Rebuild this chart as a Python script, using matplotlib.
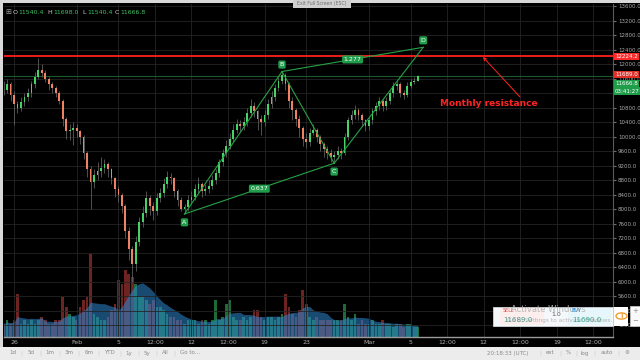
import matplotlib
matplotlib.use('Agg')
import matplotlib.pyplot as plt
from matplotlib.patches import Rectangle, Circle
import numpy as np
import pandas as pd

# 8h candles, first one at Jan 25 00:00 (day 0 = Jan 26)
closes = [
    11300, 11450, 11150, 10900, 10800, 10950, 11100, 11200, 11450, 11650,
    11840, 11750, 11600, 11450, 11350, 11200, 11000, 10500, 10150, 10200,
    10250, 10150, 10000, 9550, 9100, 8750, 8950, 9050, 9150, 9250,
    9100, 8850, 8550, 8400, 8100, 7400, 6900, 6500, 7100, 7650,
    7900, 8300, 8100, 7950, 8300, 8450, 8700, 8900, 8850, 8500,
    8250, 8000, 8050, 8250, 8350, 8550, 8700, 8500, 8550, 8650,
    8800, 9000, 9300, 9550, 9750, 9950, 10200, 10350, 10300, 10400,
    10650, 10850, 10700, 10500, 10400, 10600, 10900, 11100, 11350, 11550,
    11700, 11450, 11000, 10750, 10500, 10250, 9950, 9850, 10100, 10200,
    10000, 9800, 9650, 9550, 9450, 9500, 9600, 9550, 10000, 10450,
    10600, 10750, 10600, 10450, 10300, 10450, 10700, 10850, 11000, 10850,
    11000, 11200, 11400, 11450, 11200, 11150, 11400, 11500, 11540.4, 11666.8]
highs = [
    11550, 11600, 11500, 11250, 11000, 11100, 11200, 11350, 11550, 11800,
    12170, 12000, 11850, 11650, 11500, 11400, 11250, 11050, 10550, 10350,
    10400, 10350, 10200, 10050, 9600, 9200, 9100, 9300, 9440, 9400,
    9300, 9150, 8900, 8650, 8450, 8150, 7500, 7000, 7250, 7800,
    8100, 8500, 8400, 8200, 8450, 8600, 8850, 9050, 9000, 8900,
    8550, 8350, 8150, 8400, 8500, 8700, 8900, 8750, 8700, 8800,
    8950, 9100, 9400, 9650, 9900, 10100, 10350, 10500, 10450, 10550,
    10800, 11050, 10950, 10750, 10600, 10750, 11050, 11250, 11450, 11650,
    11800, 11750, 11500, 11100, 10800, 10600, 10300, 10100, 10250, 10350,
    10250, 10050, 9850, 9750, 9650, 9600, 9750, 9700, 10100, 10550,
    10750, 10880, 10800, 10650, 10500, 10550, 10800, 10950, 11100, 11050,
    11100, 11300, 11500, 11550, 11500, 11300, 11500, 11600, 11650, 11698]
lows = [
    11150, 11200, 11000, 10330, 10650, 10700, 10850, 11000, 11100, 11350,
    11600, 11650, 11500, 11300, 11200, 11100, 10900, 10300, 9950, 9900,
    9780, 10000, 9800, 9400, 8900, 8000, 8600, 8800, 8900, 9000,
    8900, 8700, 8350, 8200, 7900, 7200, 6600, 6000, 6300, 7000,
    7500, 7800, 7850, 7700, 7850, 8200, 8350, 8600, 8700, 8350,
    8100, 7950, 7870, 7950, 8150, 8250, 8450, 8350, 8400, 8450,
    8550, 8700, 8900, 9200, 9450, 9650, 9850, 10100, 10150, 10200,
    10300, 10550, 10550, 10200, 10050, 10300, 10500, 10800, 11000, 11250,
    11450, 11300, 10800, 10450, 10300, 10000, 9750, 9700, 9750, 10050,
    9850, 9600, 9450, 9400, 9300, 9270, 9400, 9400, 9500, 9900,
    10350, 10500, 10450, 10300, 10150, 10200, 10350, 10600, 10750, 10700,
    10750, 10900, 11100, 11300, 11100, 11050, 11100, 11350, 11450, 11540.4]
first_open = 11450
volumes = [
    4, 5, 4, 5, 13, 4, 5, 4, 5, 4,
    5, 6, 5, 4, 4, 5, 5, 12, 9, 7,
    6, 5, 9, 11, 12, 25, 7, 6, 5, 5,
    6, 8, 10, 17, 16, 20, 19, 18, 16, 12,
    12, 11, 10, 11, 9, 9, 8, 7, 6, 6,
    5, 5, 4, 5, 5, 5, 4, 5, 5, 4,
    5, 11, 5, 6, 10, 11, 6, 5, 5, 6,
    5, 6, 8, 8, 6, 5, 6, 6, 5, 6,
    7, 13, 9, 7, 6, 8, 14, 10, 6, 5,
    6, 5, 5, 5, 5, 5, 5, 5, 10, 6,
    5, 7, 4, 5, 4, 4, 5, 4, 4, 5,
    4, 4, 3, 4, 4, 3, 4, 4, 3, 3]

# ABCD pattern (days from Jan 26, price)
pat_names = ['A', 'B', 'C', 'D']
pat_t = [16.33, 25.67, 30.67, 39.2]
pat_p = [7870, 11800, 9270, 12469]
ratio_ac = '0.637'
ratio_bd = '1.277'

resistance = 12224.2
last_price = 11666.8

xtick_pos = [0, 6, 10, 13.5, 17, 20.5, 24, 28, 34, 38, 41.5, 45, 48.5, 52, 55.5]
xtick_lab = ['26', 'Feb', '5', '12:00', '12', '12:00', '19', '23', 'Mar', '5',
             '12:00', '12', '12:00', '19', '12:00']

W, H = 640, 360
def fx(x):
    return x / W
def fy(y):
    return 1 - y / H

c = np.array(closes, dtype=float)
o = np.concatenate([[first_open], c[:-1]])
hi = np.array(highs, dtype=float)
lo = np.array(lows, dtype=float)
vol = np.array(volumes, dtype=float)
t = -1 + np.arange(len(c)) / 3.0
up = c >= o

fig = plt.figure(figsize=(6.4, 3.6), dpi=100, facecolor='black')

rect = [fx(4), fy(337), (613 - 4) / W, (337 - 4) / H]
axv = fig.add_axes(rect, zorder=1)
axv.set_facecolor('black')
ax = fig.add_axes(rect, zorder=2, sharex=axv)
ax.set_facecolor('none')

# volume
vcol = np.where(up, '#1d6b35', '#6e2323')
axv.bar(t, vol, width=0.26, color=vcol, lw=0)
ma = pd.Series(vol).rolling(8, min_periods=1).mean()
axv.fill_between(t, ma, color='#2d88d1', alpha=0.55, lw=0)
axv.set_ylim(0, 100)
axv.set_yticks([])
axv.tick_params(axis='x', length=0, labelbottom=False)
for s in axv.spines.values():
    s.set_visible(False)

# candles
ax.vlines(t, lo, hi, color='#5e5e5e', lw=0.6, zorder=3)
body_h = np.maximum(np.abs(c - o), 15)
ccol = np.where(up, '#46d264', '#f08264')
ax.bar(t, body_h, bottom=np.minimum(o, c), width=0.17, color=ccol, lw=0, zorder=4)

ax.set_xlim(-0.958, 57.38)
ax.set_ylim(4477, 13663)
ax.grid(color='#252525', lw=0.6)
ax.set_axisbelow(True)

ax.axhline(resistance, color='#ff1f1f', lw=1.3, zorder=5)
ax.axhline(last_price, color='#1c5a2c', lw=0.8, zorder=2)

# pattern
segs = [(0, 1), (1, 2), (2, 3), (0, 2), (1, 3)]
for a, b in segs:
    ax.plot([pat_t[a], pat_t[b]], [pat_p[a], pat_p[b]], color='#27a244', lw=0.8, zorder=6)
box = dict(boxstyle='round,pad=0.25', fc='#1f9d4a', ec='none')
for i, name in enumerate(pat_names):
    dy = -6 if name in ('A', 'C') else 5
    ax.annotate(name, (pat_t[i], pat_p[i]), xytext=(0, dy), textcoords='offset points',
                ha='center', va='center', fontsize=4.5, color='white', bbox=box, zorder=7)
ax.text((pat_t[0] + pat_t[2]) / 2, (pat_p[0] + pat_p[2]) / 2, ratio_ac, ha='center', va='center',
        fontsize=4.5, color='white', bbox=box, zorder=7)
ax.text((pat_t[1] + pat_t[3]) / 2, (pat_p[1] + pat_p[3]) / 2, ratio_bd, ha='center', va='center',
        fontsize=4.5, color='white', bbox=box, zorder=7)

ax.text(45.5, 10932, 'Monthly resistance', ha='center', va='center', color='#ff2424',
        fontsize=6.5, fontweight='bold', zorder=7)
ax.annotate('', xy=(44.92, 12201), xytext=(48.47, 11098),
            arrowprops=dict(arrowstyle='->', color='#ff2424', lw=0.7, shrinkA=0, shrinkB=0,
                            mutation_scale=5), zorder=7)

# axes styling
ax.yaxis.tick_right()
ax.set_yticks(np.arange(4800, 13601, 400))
ax.set_yticklabels(['%.1f' % v for v in np.arange(4800, 13601, 400)])
ax.tick_params(axis='y', colors='#707070', labelcolor='#a8a8a8', labelsize=4.0, length=2, pad=1.5)
ax.set_xticks(xtick_pos)
ax.set_xticklabels(xtick_lab)
ax.tick_params(axis='x', labelcolor='#b0b0b0', labelsize=4.5, length=0, pad=2)
for k, s in ax.spines.items():
    s.set_visible(k in ('right', 'bottom'))
ax.spines['right'].set_color('#5a5a5a')
ax.spines['bottom'].set_color('#9a9a9a')
ax.spines['bottom'].set_linewidth(1)

def right_box(price, text, fc, dy=0):
    ax.annotate(text, xy=(1, price), xycoords=('axes fraction', 'data'), xytext=(1.5, dy),
                textcoords='offset points', ha='left', va='center', fontsize=4.0, color='white',
                bbox=dict(boxstyle='square,pad=0.2', fc=fc, ec='none'), annotation_clip=False, zorder=8)

right_box(resistance, '12224.2', '#ff2b2b')
right_box(11689.0, '11689.0', '#e0302a', 0.5)
right_box(last_price, '%.1f' % last_price, '#1f9d4a', -5.2)
right_box(last_price, '03:41:27', '#1f9d4a', -10.6)

# frame strips and toolbar
fig.patches.append(Rectangle((0, fy(3)), 1, 3 / H, transform=fig.transFigure,
                             fc='#d9d9d9', ec='none', zorder=0))
fig.patches.append(Rectangle((0, 0), 3 / W, 1, transform=fig.transFigure,
                             fc='#d9d9d9', ec='none', zorder=0))
fig.patches.append(Rectangle((0, 0), 1, 13 / H, transform=fig.transFigure,
                             fc='#ececec', ec='none', zorder=10))
fig.patches.append(Rectangle((fx(293), fy(8)), 58 / W, 8 / H, transform=fig.transFigure,
                             fc='#cfcfcf', ec='none', zorder=10))
fig.text(fx(322), fy(4), 'Exit Full Screen (ESC)', fontsize=3.3, color='#707070',
         ha='center', va='center', zorder=11)

tb_left = [(12.7, '1d'), (31, '5d'), (50, '1m'), (69, '3m'), (88.7, '6m'), (109, 'YTD'),
           (129, '1y'), (147, '5y'), (165, 'All'), (190, 'Go to...')]
for x, s in tb_left:
    fig.text(fx(x), fy(353), s, fontsize=4, color='#8a8a8a', ha='center', va='center', zorder=11)
for x in [21, 40, 59, 78, 98, 120, 138, 156, 174]:
    fig.text(fx(x), fy(353), '|', fontsize=4, color='#c8c8c8', ha='center', va='center', zorder=11)
tb_right = [(508, '20:18:33 (UTC)'), (550, 'ext'), (568, '%'), (585, 'log'), (607, 'auto'), (627, '⚙')]
for x, s in tb_right:
    fig.text(fx(x), fy(353), s, fontsize=4, color='#8a8a8a', ha='center', va='center', zorder=11)
for x in [540, 560, 576, 594, 618]:
    fig.text(fx(x), fy(353), '|', fontsize=4, color='#c8c8c8', ha='center', va='center', zorder=11)

# OHLC header
fig.text(fx(8), fy(12.5), '⊞', fontsize=5, color='#a0a0a0', ha='center', va='center')
hdr = [(15, 'O', 18.5, '11540.4'), (49.5, 'H', 53.5, '11698.0'), (84, 'L', 87.5, '11540.4'),
       (117, 'C', 120.5, '11666.8')]
for xl, l, xv, v in hdr:
    fig.text(fx(xl), fy(12.5), l, fontsize=4.5, color='#d0d0d0', ha='center', va='center')
    fig.text(fx(xv), fy(12.5), v, fontsize=4.5, color='#3fbf5f', ha='left', va='center')

# order popup
fig.patches.append(Rectangle((fx(493), fy(326)), 120 / W, 19 / H, transform=fig.transFigure,
                             fc='#f5f8fa', ec='#cfd6db', lw=0.6, zorder=12))
fig.patches.append(Rectangle((fx(500), fy(325)), 44 / W, 17 / H, transform=fig.transFigure,
                             fc='#fdeeee', ec='none', zorder=12))
fig.patches.append(Rectangle((fx(568), fy(325)), 43 / W, 17 / H, transform=fig.transFigure,
                             fc='#e6f6fb', ec='none', zorder=12))
fig.text(fx(548), fy(310), 'Activate Windows', fontsize=6, color='#b5b5b5', ha='center', va='center', zorder=13)
fig.text(fx(560), fy(320.5), 'Go to Settings to activate Windows.', fontsize=4.2, color='#b5b5b5',
         ha='center', va='center', zorder=13)
fig.text(fx(503), fy(311), 'SELL', fontsize=3.5, color='#e24b4b', ha='left', va='center', zorder=14)
fig.text(fx(503), fy(320), '11689.0', fontsize=5, color='#4a9a8a', ha='left', va='center', zorder=14)
fig.text(fx(556), fy(315), '1.0', fontsize=4.5, color='#555555', ha='center', va='center', zorder=14)
fig.text(fx(572), fy(311), 'BUY', fontsize=3.5, color='#2a8ad0', ha='left', va='center', zorder=14)
fig.text(fx(572), fy(320), '11690.0', fontsize=5, color='#3aa58a', ha='left', va='center', zorder=14)
fig.patches.append(Rectangle((fx(614), fy(326)), 14 / W, 19 / H, transform=fig.transFigure,
                             fc='white', ec='none', zorder=12))
fig.patches.append(Circle((fx(621.5), fy(316)), 5.5 / W, transform=fig.transFigure,
                          fc='white', ec='#f39c32', lw=1, zorder=13))
fig.text(fx(621.5), fy(316), 'i', fontsize=5, color='#f39c32', fontweight='bold',
         ha='center', va='center', zorder=14)
fig.patches.append(Rectangle((fx(630), fy(326)), 10 / W, 20 / H, transform=fig.transFigure,
                             fc='#fafafa', ec='#d0d0d0', lw=0.5, zorder=12))
fig.text(fx(635), fy(311), '+', fontsize=5, color='#888888', ha='center', va='center', zorder=14)
fig.text(fx(635), fy(321), '−', fontsize=5, color='#888888', ha='center', va='center', zorder=14)

fig.savefig('out.png', dpi=100, facecolor='black')
